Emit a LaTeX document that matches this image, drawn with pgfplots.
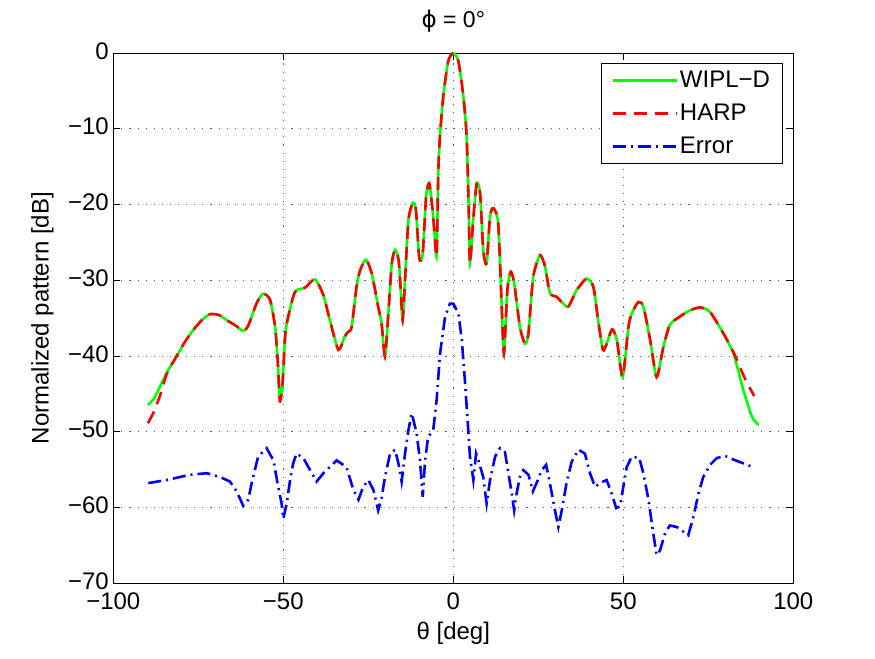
\documentclass[border=0pt]{standalone}
\usepackage{pgfplots}
\pgfplotsset{compat=1.18}
\usepackage{fontspec}
\setmainfont{Liberation Sans}
\newfontfamily\dejavu{DejaVu Sans}
\definecolor{mgreen}{RGB}{0,255,0}
\definecolor{mred}{RGB}{255,0,0}
\definecolor{mblue}{RGB}{0,0,255}
\begin{document}
\begin{tikzpicture}
\path[use as bounding box] (-113.3bp,-76bp) rectangle (761.7bp,583bp);
\begin{axis}[
  scale only axis,
  width=680bp, height=530bp,
  xmin=-100, xmax=100, ymin=-70, ymax=0,
  xtick={-100,-50,0,50,100},
  xticklabels={−100,−50,0,50,100},
  ytick={-70,-60,-50,-40,-30,-20,-10,0},
  yticklabels={−70,−60,−50,−40,−30,−20,−10,0},
  tick align=inside,
  xtick pos=both, ytick pos=both,
  major tick length=7bp,
  grid=major,
  major grid style={black!65, line width=0.7pt, dash pattern=on 1.1bp off 7bp},
  axis line style={line width=0.8pt},
  every tick/.style={black, line width=0.6pt},
  tick label style={font=\fontsize{24bp}{28bp}\selectfont},
  xticklabel style={yshift=-6bp},
  yticklabel style={xshift=-1bp, yshift=2bp},
  label style={font=\fontsize{24bp}{28bp}\selectfont},
  xlabel={θ [deg]},
  ylabel={Normalized pattern [dB]},
  xlabel style={at={(axis description cs:0.5,-0.0943)}, anchor=center},
  ylabel style={at={(axis description cs:-0.1044,0.5)}, anchor=center},
  title={{\dejavu ϕ} = 0°},
  title style={font=\fontsize{23bp}{26bp}\selectfont, at={(axis description cs:0.5,1.049)}, anchor=center},
  legend style={at={(axis description cs:1,1)}, anchor=north east, xshift=-11bp, yshift=-10bp,
    font=\fontsize{24bp}{28bp}\selectfont, draw=black, line width=0.6pt, inner xsep=10bp, inner ysep=6bp,
    cells={anchor=west}, row sep=11bp,
    /tikz/every even column/.append style={column sep=4bp}},
  legend image code/.code={\draw[#1] (0bp,0bp) -- (64bp,0bp);},
]
\addplot[mgreen, line width=2.6pt, smooth, tension=0.4] coordinates {
(-89.8,-46.5) (-88,-45.6) (-86.3,-44.1) (-84,-42) (-81.4,-40.1) (-79,-38.2) (-76.5,-36.6) (-74,-35.3)
(-71.6,-34.5) (-69,-34.6) (-66.6,-35.3) (-64,-36.0) (-61.8,-36.7) (-60.3,-36.0) (-57.8,-33) (-55.9,-31.8)
(-53.9,-32.6) (-52.4,-36.2) (-51.6,-41) (-51,-45.8) (-50.2,-43.5) (-49.3,-36.6) (-47.1,-32.2) (-46,-31.3)
(-43.6,-31.0) (-40.7,-29.9) (-38.2,-32.0) (-36.3,-35.3) (-33.8,-39.2) (-32,-37.5) (-30.9,-36.8) (-29.9,-36.2)
(-28.5,-31) (-27.4,-28.7) (-25.7,-27.3) (-24,-29.1) (-22.1,-33.5) (-21.1,-35.7) (-20.1,-40.1) (-19.1,-34.4)
(-18.1,-27.8) (-17.1,-26.0) (-16.1,-27.3) (-15.5,-31) (-14.9,-35.3) (-14.2,-30.0) (-13.2,-22.1) (-11.9,-19.8)
(-11,-20.7) (-10,-27.1) (-9,-26.5) (-8.0,-19.0) (-7.1,-17.2) (-6.1,-20.7) (-5.5,-24) (-4.9,-26.7)
(-4.4,-15.5) (-3.9,-10.8) (-2.9,-5.5) (-1.5,-1.1) (0,0) (1.5,-1.1) (2.9,-5.5) (3.9,-10.8)
(4.5,-20) (4.9,-27.8) (5.9,-21.8) (6.9,-17.2) (7.9,-18.6) (8.8,-26) (9.8,-27.8) (10.8,-21.6)
(11.8,-20.5) (13.2,-22.5) (14.2,-33.1) (14.9,-39.7) (15.9,-31.3) (16.9,-28.9) (17.9,-30.4) (19.6,-36.2)
(21.1,-38.4) (22.1,-37) (23.5,-29.6) (25.5,-26.7) (27.0,-28.2) (28.4,-31.7) (30.4,-32.2) (31.9,-32.9)
(33.8,-33.5) (36.3,-31.3) (39.2,-29.8) (41.2,-30.9) (42.6,-35.3) (44.0,-39.2) (45.1,-38.4) (46.7,-36.5)
(48.1,-37.9) (49.8,-42.8) (51.5,-36.2) (52.5,-34.4) (54.4,-32.9) (55.9,-33.5) (57.9,-37.9) (59.8,-42.8)
(61.8,-38.8) (63.7,-35.9) (66.7,-34.8) (69.6,-34.0) (72.6,-33.6) (75.5,-34.2) (79.4,-37) (82.4,-39.7)
(85.3,-44.5) (87.8,-48) (89.7,-49.1)
};
\addlegendentry{WIPL−D}
\addplot[mred, line width=2.6pt, dash pattern=on 13bp off 8bp, smooth, tension=0.4] coordinates {
(-89.8,-48.9) (-88,-47.3) (-86.3,-45.3) (-84.3,-42.4) (-82,-40.5) (-79,-38.2) (-76.5,-36.6) (-74,-35.3)
(-71.6,-34.5) (-69,-34.6) (-66.6,-35.3) (-64,-36.0) (-61.8,-36.7) (-60.3,-36.0) (-57.8,-33) (-55.9,-31.8)
(-53.9,-32.6) (-52.4,-36.2) (-51.6,-41) (-51,-46.0) (-50.2,-43.5) (-49.3,-36.6) (-47.1,-32.2) (-46,-31.3)
(-43.6,-31.0) (-40.7,-29.9) (-38.2,-32.0) (-36.3,-35.3) (-33.8,-39.2) (-32,-37.5) (-30.9,-36.8) (-29.9,-36.2)
(-28.5,-31) (-27.4,-28.7) (-25.7,-27.3) (-24,-29.1) (-22.1,-33.5) (-21.1,-35.7) (-20.1,-40.1) (-19.1,-34.4)
(-18.1,-27.8) (-17.1,-26.0) (-16.1,-27.3) (-15.5,-31) (-14.9,-35.3) (-14.2,-30.0) (-13.2,-22.1) (-11.9,-19.8)
(-11,-20.7) (-10,-27.1) (-9,-26.5) (-8.0,-19.0) (-7.1,-17.2) (-6.1,-20.7) (-5.5,-24) (-4.9,-26.7)
(-4.4,-15.5) (-3.9,-10.8) (-2.9,-5.5) (-1.5,-1.1) (0,0) (1.5,-1.1) (2.9,-5.5) (3.9,-10.8)
(4.5,-20) (4.9,-27.8) (5.9,-21.8) (6.9,-17.2) (7.9,-18.6) (8.8,-26) (9.8,-27.8) (10.8,-21.6)
(11.8,-20.5) (13.2,-22.5) (14.2,-33.1) (14.9,-39.7) (15.9,-31.3) (16.9,-28.9) (17.9,-30.4) (19.6,-36.2)
(21.1,-38.4) (22.1,-37) (23.5,-29.6) (25.5,-26.7) (27.0,-28.2) (28.4,-31.7) (30.4,-32.2) (31.9,-32.9)
(33.8,-33.5) (36.3,-31.3) (39.2,-29.8) (41.2,-30.9) (42.6,-35.3) (44.0,-39.2) (45.1,-38.4) (46.7,-36.5)
(48.1,-37.9) (49.8,-42.8) (51.5,-36.2) (52.5,-34.4) (54.4,-32.9) (55.9,-33.5) (57.9,-37.9) (59.8,-42.8)
(61.8,-38.8) (63.7,-35.9) (66.7,-34.8) (69.6,-34.0) (72.6,-33.6) (75.5,-34.2) (79.4,-37) (82.4,-39.5)
(84.3,-41.5) (86.2,-43.4) (88.5,-45.3)
};
\addlegendentry{HARP}
\addplot[mblue, line width=2.6pt, dash pattern=on 13bp off 5bp on 2bp off 5bp] coordinates {
(-89.7,-56.8) (-84.3,-56.4) (-77.4,-55.7) (-72.5,-55.5) (-68.6,-56.0) (-65.7,-56.6) (-63.7,-57.9) (-61.8,-59.8)
(-60.3,-59.0) (-59.3,-56.8) (-57.4,-53.3) (-54.9,-52.2) (-52.9,-53.8) (-51.5,-57.3) (-50.5,-59.5) (-50,-61.5)
(-49,-59.5) (-48,-56.4) (-47.1,-54.2) (-46.1,-52.9) (-44.1,-53.5) (-42.1,-55.1) (-40.2,-56.6) (-38.2,-55.5)
(-34.3,-53.8) (-31.4,-54.7) (-29.4,-57.7) (-27.9,-59.0) (-26.5,-57.3) (-25,-56.4) (-23.5,-57.7) (-22.1,-60.4)
(-21.1,-58.8) (-20.1,-56.0) (-18.6,-52.9) (-17.1,-52.4) (-15.9,-54.7) (-15.2,-56.6) (-14.2,-52.9) (-13.2,-49.8)
(-12.2,-47.6) (-10.8,-50.2) (-9.8,-53.8) (-9.0,-58.6) (-8.3,-53.8) (-7.4,-50.7) (-5.9,-49.8) (-4.9,-45.8)
(-3.9,-39.7) (-2.4,-34.8) (-1,-33.1) (0,-33.1) (1.5,-34.4) (2.5,-37.9) (3.4,-43.2) (4.4,-49.8)
(4.9,-53.3) (5.9,-56.4) (6.7,-52.9) (7.4,-53.8) (8.8,-56.0) (9.8,-59.5) (10.8,-56.4) (12.3,-53.3)
(13.7,-52.2) (15.2,-52.7) (16.2,-55.5) (17.2,-58.2) (17.9,-60.4) (18.6,-58.2) (19.6,-56.0) (20.6,-55.1)
(22.1,-55.7) (23.4,-57.9) (24.5,-56.8) (26,-55.1) (27.3,-54.4) (28.4,-56.8) (29.9,-60.4) (30.9,-62.6)
(31.9,-60.4) (33.3,-56.8) (34.8,-54.0) (36.8,-52.4) (38.7,-52.9) (40.2,-55.5) (41.7,-57.3) (43.1,-56.8)
(45.1,-56.4) (46.6,-58.2) (47.9,-60.1) (49,-59.9) (50,-57.3) (51,-54.7) (52.5,-53.3) (54.7,-53.5)
(55.9,-55.5) (57.4,-59.0) (58.8,-63.4) (59.8,-66.3) (60.8,-65.7) (62.3,-63.4) (63.7,-62.4) (65.7,-62.6)
(67.6,-63.2) (69.1,-63.7) (70.6,-61.3) (72.1,-58.2) (73.5,-56.0) (75.5,-54.4) (77.5,-53.5) (79.9,-53.2)
(82.4,-53.7) (85.3,-54.2) (88.2,-54.7)
};
\addlegendentry{Error}
\end{axis}
\end{tikzpicture}
\end{document}
